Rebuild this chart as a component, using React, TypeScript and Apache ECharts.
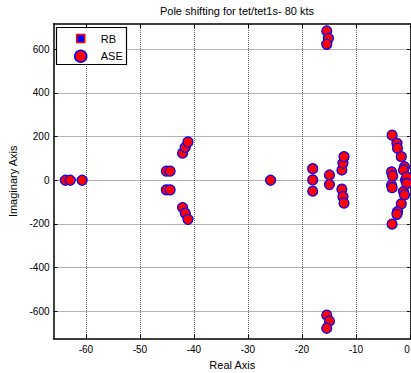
import React, { useEffect, useRef } from "react";
import * as echarts from "echarts";

const titleText = "Pole shifting for tet/tet1s- 80 kts";
const xTicks = [-60, -50, -40, -30, -20, -10, 0];
const yTicks = [-600, -400, -200, 0, 200, 400, 600];
const seriesNames = ["RB", "ASE"];

// Poles [real, imaginary]
const asePoles: number[][] = [
  [-63.8, 0], [-62.9, 0], [-60.7, 0],
  [-45.1, 42], [-44.4, 42], [-45.1, -44], [-44.4, -44],
  [-42.1, 124], [-41.6, 151], [-41.1, 176],
  [-42.1, -125], [-41.6, -151], [-41.1, -179],
  [-25.8, 0],
  [-18.0, 53], [-18.0, 2], [-18.0, -50],
  [-14.9, 24], [-14.9, -20],
  [-12.6, 47], [-12.4, 78], [-12.2, 108],
  [-12.6, -41], [-12.4, -75], [-12.2, -105],
  [-15.4, 684], [-15.1, 650], [-15.4, 623],
  [-15.4, -618], [-14.9, -645], [-15.4, -678],
  [-3.3, 207], [-2.4, 169], [-2.3, 147], [-1.6, 108], [-1.0, 62], [-1.2, 47],
  [-3.4, 38], [-3.2, 20], [-0.8, 0], [-0.4, 0], [0, 0], [-0.6, 15], [-0.6, -15],
  [-3.4, -22], [-3.3, -34], [-1.2, -52], [-1.0, -67], [-1.6, -108],
  [-2.3, -144], [-2.4, -156], [-3.3, -201],
];
const rbPoles: number[][] = [
  [-63.8, 0], [-62.9, 0], [-60.7, 0],
  [-45.1, 42], [-44.4, 42], [-45.1, -44], [-44.4, -44],
  [-42.1, 124], [-41.6, 151], [-41.1, 176],
  [-42.1, -125], [-41.6, -151], [-41.1, -179],
  [-25.8, 0],
  [-18.0, 53], [-18.0, 2], [-18.0, -50],
  [-14.9, 24], [-14.9, -20],
  [-12.6, 47], [-12.4, 78], [-12.2, 108],
  [-12.6, -41], [-12.4, -75], [-12.2, -105],
  [-15.4, 684], [-15.1, 650], [-15.4, 623],
  [-15.4, -618], [-14.9, -645], [-15.4, -678],
  [-3.3, 207], [-2.4, 169], [-2.3, 147], [-1.6, 108], [-1.0, 62], [-1.2, 47],
  [-3.4, 38], [-3.2, 20], [-0.8, 0], [-0.4, 0], [0, 0], [-0.6, 15], [-0.6, -15],
  [-3.4, -22], [-3.3, -34], [-1.2, -52], [-1.0, -67], [-1.6, -108],
  [-2.3, -144], [-2.4, -156], [-3.3, -201],
];

const FONT = "Liberation Sans, Arial, sans-serif";

export default function App() {
  const ref = useRef<HTMLDivElement>(null);
  useEffect(() => {
    if (!ref.current) return;
    const chart = echarts.init(ref.current, null, { renderer: "svg" });
    const axisLine = { show: true, onZero: false, lineStyle: { color: "#000", width: 1.5 } };
    const tickStyle = { show: true, inside: true, length: 4, lineStyle: { color: "#000", width: 1 } };
    const gridLine = { show: true, lineStyle: { type: [1, 1], color: "#666", width: 1 } };
    chart.setOption({
      animation: false,
      backgroundColor: "#fff",
      textStyle: { fontFamily: FONT },
      title: {
        text: titleText,
        left: 232,
        top: 0,
        textAlign: "center",
        textStyle: { fontSize: 11, fontWeight: "normal", color: "#000", fontFamily: FONT },
      },
      grid: { left: 53.5, top: 24, width: 357.5, height: 314.7, containLabel: false, outerBoundsMode: "none" },
      xAxis: [
        {
          type: "value",
          min: -66,
          max: 0.2,
          position: "bottom",
          name: "Real Axis",
          nameLocation: "middle",
          nameGap: 20,
          nameTextStyle: { fontSize: 11, color: "#000", fontFamily: FONT },
          axisLine,
          axisTick: { ...tickStyle, customValues: xTicks },
          axisLabel: {
            customValues: xTicks,
            fontSize: 10,
            color: "#000",
            margin: 6,
            fontFamily: FONT,
            hideOverlap: false,
            alignMaxLabel: "right",
          },
          splitLine: gridLine,
        },
        {
          type: "value",
          min: -66,
          max: 0.2,
          position: "top",
          axisLine,
          axisTick: { ...tickStyle, customValues: xTicks },
          axisLabel: { show: false, customValues: xTicks },
          splitLine: { show: false },
        },
      ],
      yAxis: [
        {
          type: "value",
          min: -726,
          max: 716,
          position: "left",
          name: "Imaginary Axis",
          nameLocation: "middle",
          nameGap: 28,
          nameTextStyle: { fontSize: 11, color: "#000", fontFamily: FONT },
          axisLine,
          axisTick: { ...tickStyle, customValues: yTicks },
          axisLabel: { customValues: yTicks, fontSize: 10, color: "#000", margin: 4, fontFamily: FONT },
          splitLine: gridLine,
        },
        {
          type: "value",
          min: -726,
          max: 716,
          position: "right",
          axisLine,
          axisTick: { ...tickStyle, customValues: yTicks },
          axisLabel: { show: false, customValues: yTicks },
          splitLine: { show: false },
        },
      ],
      legend: [
        {
          data: [{ name: seriesNames[0], icon: "rect", itemStyle: { color: "#0000ff", borderColor: "#ff0000", borderWidth: 1.5 } }],
          orient: "vertical",
          left: 76,
          top: 33,
          padding: 0,
          itemWidth: 8,
          itemHeight: 8,
          z: 11,
          textStyle: { fontSize: 11, color: "#000", padding: [0, 0, 0, 11], fontFamily: FONT },
        },
        {
          data: [{ name: seriesNames[1], icon: "circle", itemStyle: { color: "#ff0000", borderColor: "#0000ff", borderWidth: 1.5 } }],
          orient: "vertical",
          left: 74,
          top: 49.5,
          padding: 0,
          itemWidth: 12,
          itemHeight: 12,
          z: 11,
          textStyle: { fontSize: 11, color: "#000", padding: [0, 0, 0, 9], fontFamily: FONT },
        },
      ],
      graphic: [
        {
          type: "rect",
          z: 10,
          shape: { x: 56.5, y: 27.5, width: 70, height: 37 },
          style: { fill: "#fff", stroke: "#000", lineWidth: 1.2 },
        },
      ],
      series: [
        {
          name: seriesNames[0],
          type: "scatter",
          data: rbPoles,
          symbol: "rect",
          symbolSize: 6,
          itemStyle: { color: "#0000ff", borderColor: "#ff0000", borderWidth: 1, opacity: 1 },
        },
        {
          name: seriesNames[1],
          type: "scatter",
          data: asePoles,
          symbol: "circle",
          symbolSize: 10,
          itemStyle: { color: "#ff0000", borderColor: "#0000ff", borderWidth: 1.2, opacity: 1 },
        },
      ],
    });
    return () => chart.dispose();
  }, []);
  return (
    <div
      ref={ref}
      style={{ position: "fixed", left: 0, top: 0, width: 411, height: 373, background: "#fff" }}
    />
  );
}
